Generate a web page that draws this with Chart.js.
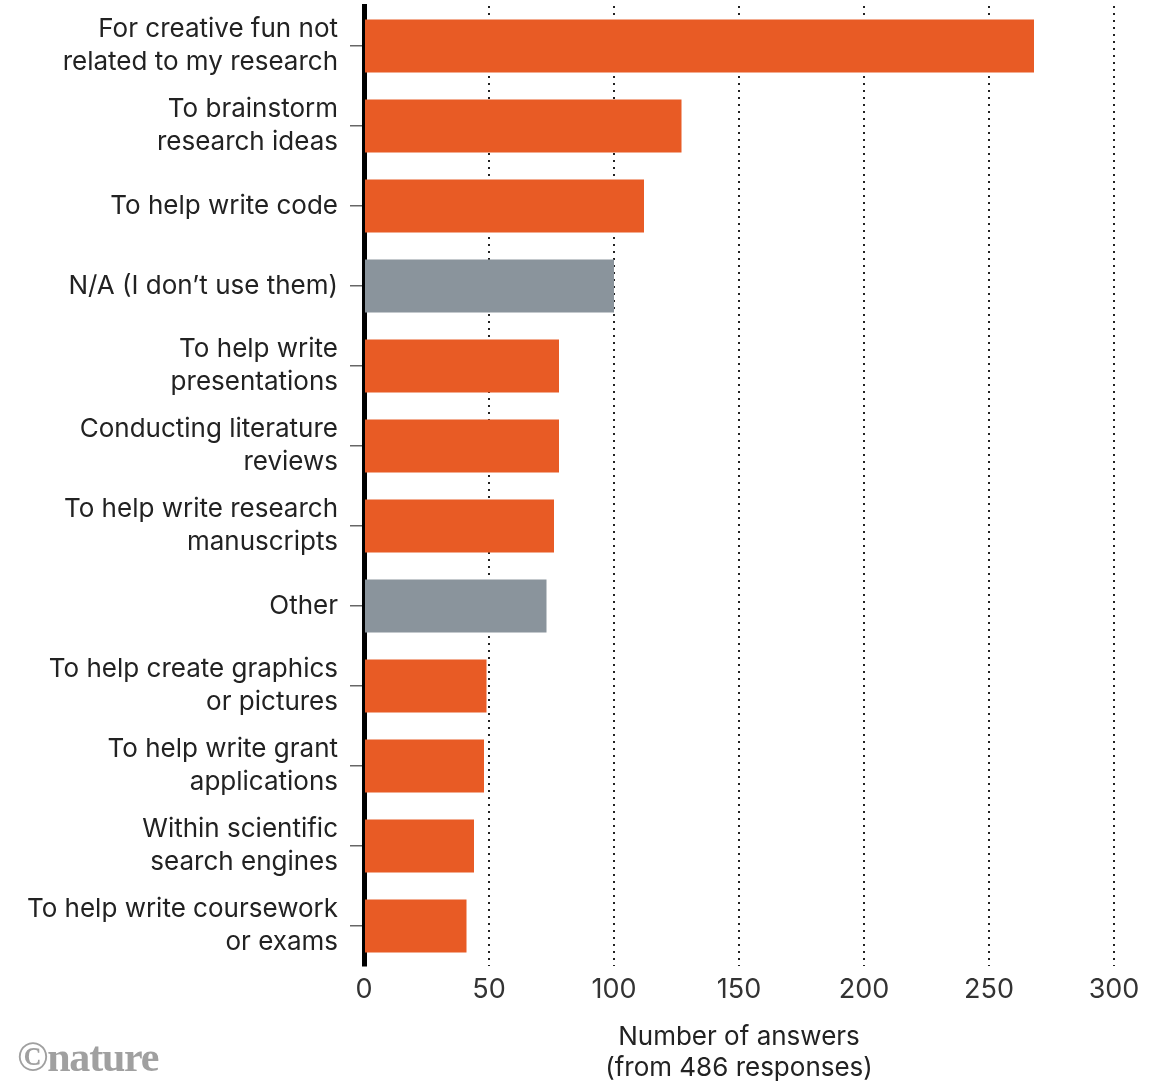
<!DOCTYPE html>
<html>
<head>
<meta charset="utf-8">
<script src="https://cdn.jsdelivr.net/npm/chart.js@4"></script>
<style>
  body { margin: 0; background: #fff; }
  #wrap { position: relative; width: 1156px; height: 1082px; }
  #logo {
    position: absolute; left: 17px; top: 1033px;
    font-family: 'Liberation Serif', 'DejaVu Serif', serif;
    font-weight: bold; font-size: 42px; letter-spacing: -1.2px;
    color: #a0a0a0;
  }
</style>
</head>
<body>
<div id="wrap">
  <canvas id="chart" width="1156" height="1082"></canvas>
  <div id="logo">©nature</div>
</div>
<script>
// Answers to "How do you use AI chatbots?" (486 responses)
const categories = [
  ['For creative fun not', 'related to my research'],
  ['To brainstorm', 'research ideas'],
  'To help write code',
  'N/A (I don\u2019t use them)',
  ['To help write', 'presentations'],
  ['Conducting literature', 'reviews'],
  ['To help write research', 'manuscripts'],
  'Other',
  ['To help create graphics', 'or pictures'],
  ['To help write grant', 'applications'],
  ['Within scientific', 'search engines'],
  ['To help write coursework', 'or exams'],
];
const answers = [268, 127, 112, 100, 78, 78, 76, 73, 49, 48, 44, 41];
const neutral = [false, false, false, true, false, false, false, true, false, false, false, false];
const xTicks = [0, 50, 100, 150, 200, 250, 300];

const ORANGE = '#e85b25';
const GREY   = '#8a949c';
const FONT   = "Inter, 'Open Sans', sans-serif";

new Chart(document.getElementById('chart'), {
  type: 'bar',
  data: {
    labels: categories,
    datasets: [{
      data: answers,
      backgroundColor: neutral.map(n => n ? GREY : ORANGE),
      borderWidth: 0,
      categoryPercentage: 1,
      barPercentage: 0.66,
    }],
  },
  options: {
    indexAxis: 'y',
    responsive: false,
    animation: false,
    layout: { padding: { top: 6, right: 42, bottom: 0, left: 0 } },
    plugins: { legend: { display: false }, tooltip: { enabled: false } },
    scales: {
      x: {
        min: 0, max: 300,
        afterBuildTicks: s => { s.ticks = xTicks.map(v => ({ value: v })); },
        afterFit: s => { s.height = 116; s.paddingLeft = 0; s.paddingRight = 0; },
        grid: {
          color: ctx => ctx.tick && ctx.tick.value === 0 ? 'rgba(0,0,0,0)' : '#222',
          lineWidth: 2,
          drawTicks: false,
        },
        border: { display: false, dash: [2, 5] },
        ticks: { color: '#333', padding: 8, font: { family: FONT, size: 27 } },
        title: {
          display: true,
          text: ['Number of answers', '(from 486 responses)'],
          color: '#222',
          font: { family: FONT, size: 26, lineHeight: 1.2 },
          padding: { top: 4, bottom: -2 },
        },
      },
      y: {
        afterFit: s => { s.width = 364; s.paddingTop = 0; s.paddingBottom = 0; },
        border: { color: '#000', width: 5 },
        grid: {
          offset: false, drawOnChartArea: false, drawTicks: true,
          tickLength: 14, color: '#666', lineWidth: 1.5,
        },
        ticks: { color: '#222', padding: 12, font: { family: FONT, size: 26, lineHeight: 1.27 } },
      },
    },
  },
});
</script>
</body>
</html>
